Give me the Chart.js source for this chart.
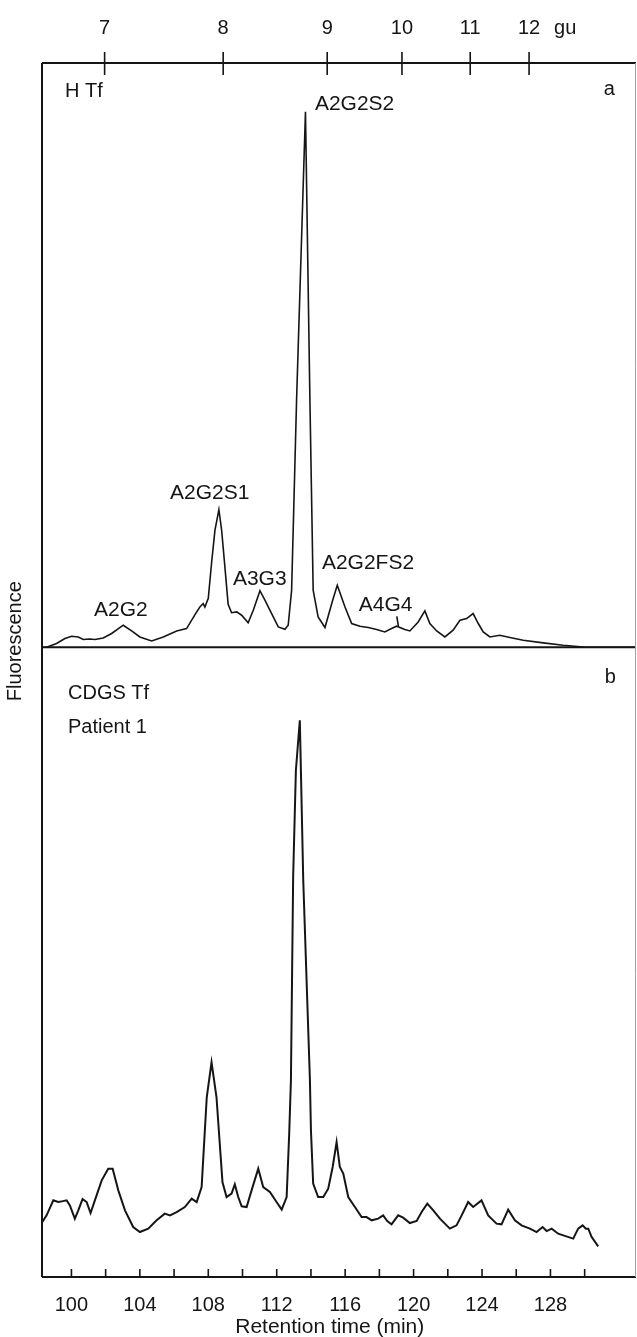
<!DOCTYPE html>
<html>
<head>
<meta charset="utf-8">
<script src="https://cdn.jsdelivr.net/npm/chart.js@4.4.1/dist/chart.umd.min.js"></script>
<style>
  html, body { margin: 0; padding: 0; background: #fff; }
</style>
</head>
<body>
<canvas id="chromChart" width="637" height="1337"></canvas>
<script>
// Panel a: normal human transferrin (H Tf), retention time (min) vs fluorescence
var timeA = [98.39, 98.55, 99.13, 99.62, 100.01, 100.40, 100.69, 101.08, 101.37, 101.86,
  102.35, 103.03, 103.52, 104.00, 104.69, 105.37, 106.15, 106.73, 107.32, 107.51,
  107.70, 107.80, 108.00, 108.19, 108.39, 108.62, 108.78, 108.97, 109.16, 109.36,
  109.66, 109.95, 110.33, 110.63, 111.02, 111.31, 111.60, 112.09, 112.48, 112.67,
  112.87, 113.16, 113.68, 113.94, 114.13, 114.42, 114.82, 115.30, 115.54, 115.99,
  116.38, 116.86, 117.35, 117.84, 118.32, 118.71, 119.01, 119.49, 119.78, 120.27,
  120.66, 120.95, 121.35, 121.83, 122.31, 122.71, 123.10, 123.48, 123.78, 124.07,
  124.46, 125.04, 125.63, 126.41, 127.58, 128.74, 129.91, 130.89, 132.99];
var fluorA = [0, 0, 0.63, 1.49, 1.88, 1.76, 1.32, 1.42, 1.32, 1.59,
  2.35, 3.77, 2.79, 1.76, 1.08, 1.76, 2.79, 3.20, 6.04, 6.90,
  7.48, 6.90, 8.39, 14.38, 20.03, 23.54, 20.03, 13.75, 7.36, 5.91,
  6.04, 5.48, 4.20, 6.34, 9.67, 8.05, 6.34, 3.48, 3.08, 3.77,
  9.76, 42.29, 91.66, 42.29, 9.76, 5.19, 3.37, 8.34, 10.62, 6.90,
  4.06, 3.60, 3.37, 3.03, 2.62, 3.20, 3.60, 3.03, 2.79, 4.33,
  6.22, 4.06, 2.79, 1.76, 2.91, 4.62, 4.91, 5.77, 4.06, 2.62,
  1.76, 2.05, 1.66, 1.20, 0.74, 0.34, 0.05, 0, 0];

// Panel b: CDGS transferrin, patient 1
var timeB = [98.28, 98.55, 98.94, 99.23, 99.44, 99.72, 99.91, 100.20, 100.40, 100.65,
  100.89, 101.12, 101.37, 101.77, 102.15, 102.41, 102.74, 103.13, 103.61, 104.00,
  104.49, 104.98, 105.46, 105.76, 106.15, 106.63, 107.03, 107.32, 107.61, 107.91,
  108.19, 108.48, 108.83, 109.07, 109.36, 109.55, 109.75, 109.95, 110.24, 110.53,
  110.92, 111.21, 111.60, 111.99, 112.29, 112.58, 112.73, 112.83, 112.96, 113.12,
  113.35, 113.55, 113.94, 114.00, 114.13, 114.42, 114.72, 115.01, 115.27, 115.50,
  115.69, 115.89, 116.18, 116.57, 116.96, 117.25, 117.55, 117.93, 118.22, 118.46,
  118.71, 119.10, 119.39, 119.78, 120.18, 120.47, 120.80, 121.15, 121.54, 122.12,
  122.51, 122.81, 123.19, 123.48, 123.97, 124.36, 124.85, 125.14, 125.53, 125.92,
  126.31, 126.80, 127.19, 127.54, 127.78, 128.07, 128.45, 128.75, 129.33, 129.62,
  129.88, 130.07, 130.21, 130.41, 130.79];
var fluorB = [9.59, 10.69, 13.05, 12.78, 12.89, 13.05, 12.26, 10.17, 11.48, 13.25,
  12.78, 11.05, 13.05, 16.19, 18.03, 18.03, 14.62, 11.48, 8.85, 8.07,
  8.60, 9.91, 10.96, 10.69, 11.21, 12.00, 13.32, 12.78, 15.14, 29.25,
  34.75, 29.25, 15.88, 13.57, 14.10, 15.57, 13.57, 12.11, 12.00, 14.62,
  18.03, 15.14, 14.36, 12.78, 11.59, 13.57, 23.58, 31.92, 63.84, 80.66,
  88.52, 63.36, 31.92, 24.06, 15.68, 13.57, 13.57, 14.89, 18.29, 22.22,
  18.29, 17.25, 13.57, 12.00, 10.42, 10.42, 9.91, 10.17, 10.69, 9.80,
  9.28, 10.69, 10.33, 9.48, 9.80, 11.21, 12.53, 11.48, 10.17, 8.60,
  9.12, 10.69, 12.78, 12.00, 13.05, 10.69, 9.39, 9.28, 11.59, 9.91,
  9.12, 8.60, 8.07, 8.85, 8.22, 8.60, 7.81, 7.55, 7.03, 8.60,
  9.12, 8.60, 8.60, 7.28, 5.82];

// bottom axis (minutes) and top axis (glucose units)
var minuteTicks = [100, 102, 104, 106, 108, 110, 112, 114, 116, 118, 120, 122, 124, 126, 128, 130];
var guTimes = [101.94, 108.87, 114.95, 119.32, 123.31, 126.75];
var guLabels = ['7', '8', '9', '10', '11', '12'];

// glycan peak names in panel a
var peakNames = ['A2G2', 'A2G2S1', 'A3G3', 'A2G2S2', 'A2G2FS2', 'A4G4'];
var peakLabelTimes = [101.32, 105.76, 109.44, 114.23, 114.64, 116.80];
var peakLabelLevels = [6.34, 26.37, 11.73, 92.98, 14.38, 7.19];

var FONT = '"Liberation Sans", Arial, sans-serif';
var INK = '#151515';

function toPoints(xs, ys) {
  return xs.map(function (t, i) { return { x: t, y: ys[i] }; });
}

var framePlugin = {
  id: 'frame',
  afterDraw: function (chart) {
    var c = chart.ctx;
    var area = chart.chartArea;
    var x = chart.scales.x, gu = chart.scales.gu, yA = chart.scales.yA, yB = chart.scales.yB;
    c.save();
    c.strokeStyle = INK;
    c.lineWidth = 2;
    c.beginPath();
    c.moveTo(area.left, area.top); c.lineTo(area.left, area.bottom);
    c.moveTo(area.left, area.top); c.lineTo(area.right, area.top);
    c.moveTo(area.left, yA.bottom); c.lineTo(area.right, yA.bottom);
    c.moveTo(area.left, area.bottom); c.lineTo(area.right, area.bottom);
    c.stroke();

    // faint right edge
    c.strokeStyle = '#a0a0a0';
    c.lineWidth = 1;
    c.beginPath();
    c.moveTo(area.right - 0.5, area.top); c.lineTo(area.right - 0.5, area.bottom);
    c.stroke();

    // tick marks
    c.strokeStyle = INK;
    c.lineWidth = 1.6;
    c.beginPath();
    x.ticks.forEach(function (t) {
      var px = x.getPixelForValue(t.value);
      c.moveTo(px, area.bottom); c.lineTo(px, area.bottom - 8);
    });
    gu.ticks.forEach(function (t) {
      var px = gu.getPixelForValue(t.value);
      c.moveTo(px, area.top - 11); c.lineTo(px, area.top + 12);
    });
    // leader from A4G4 label to its peak
    c.moveTo(x.getPixelForValue(119.02), yA.getPixelForValue(5.3));
    c.lineTo(x.getPixelForValue(119.11), yA.getPixelForValue(3.6));
    c.stroke();

    c.fillStyle = INK;
    c.font = '20px ' + FONT;
    c.textBaseline = 'middle';
    c.textAlign = 'left';
    c.fillText('gu', gu.getPixelForValue(guTimes[guTimes.length - 1]) + 25, 28);

    c.font = '21px ' + FONT;
    peakNames.forEach(function (name, i) {
      c.fillText(name, x.getPixelForValue(peakLabelTimes[i]), yA.getPixelForValue(peakLabelLevels[i]));
    });
    c.font = '20px ' + FONT;
    c.fillText('H Tf', x.getPixelForValue(99.62), yA.getPixelForValue(95.2));
    c.fillText('a', x.getPixelForValue(131.12), yA.getPixelForValue(95.4));
    c.fillText('CDGS Tf', x.getPixelForValue(99.8), yB.getPixelForValue(92.8));
    c.fillText('Patient 1', x.getPixelForValue(99.8), yB.getPixelForValue(87.4));
    c.fillText('b', x.getPixelForValue(131.18), yB.getPixelForValue(95.3));

    // x-axis title, centred under the trace rather than the frame
    c.textAlign = 'center';
    c.font = '21px ' + FONT;
    c.fillText('Retention time (min)', x.getPixelForValue(115.1), 1327);

    // shared y-axis title
    c.font = '20px ' + FONT;
    c.translate(15, yA.bottom - 6);
    c.rotate(-Math.PI / 2);
    c.fillText('Fluorescence', 0, 0);
    c.restore();
  }
};

Chart.defaults.font.family = FONT;
Chart.defaults.color = INK;

var ctx = document.getElementById('chromChart').getContext('2d');
var chart = new Chart(ctx, {
  type: 'line',
  data: {
    datasets: [
      {
        label: 'H Tf',
        data: toPoints(timeA, fluorA),
        yAxisID: 'yA',
        borderColor: INK,
        borderWidth: 1.6,
        pointRadius: 0,
        tension: 0,
        fill: false
      },
      {
        label: 'CDGS Tf',
        data: toPoints(timeB, fluorB),
        yAxisID: 'yB',
        borderColor: INK,
        borderWidth: 2,
        pointRadius: 0,
        tension: 0,
        fill: false
      }
    ]
  },
  options: {
    responsive: false,
    animation: false,
    layout: { padding: { left: 0, right: 1, top: 0, bottom: 0 } },
    plugins: { legend: { display: false }, tooltip: { enabled: false } },
    scales: {
      x: {
        type: 'linear',
        position: 'bottom',
        min: 98.28,
        max: 133,
        grid: { display: false, drawTicks: false },
        border: { display: false },
        afterBuildTicks: function (scale) {
          scale.ticks = minuteTicks.map(function (v) { return { value: v }; });
        },
        ticks: {
          autoSkip: false,
          maxRotation: 0,
          padding: 16,
          font: { size: 20 },
          callback: function (v) { return (v % 4 === 0 && v <= 128) ? String(v) : ''; }
        },
        afterFit: function (scale) { scale.height = 60; }
      },
      gu: {
        type: 'linear',
        position: 'top',
        min: 98.28,
        max: 133,
        grid: { display: false, drawTicks: false },
        border: { display: false },
        afterBuildTicks: function (scale) {
          scale.ticks = guTimes.map(function (v) { return { value: v }; });
        },
        ticks: {
          autoSkip: false,
          maxRotation: 0,
          padding: 23,
          font: { size: 20 },
          callback: function (v, i) { return guLabels[i]; }
        },
        afterFit: function (scale) { scale.height = 63; }
      },
      // stacked left axes are laid out bottom-up, so the lower panel comes first
      yB: {
        type: 'linear',
        position: 'left',
        stack: 'panels',
        stackWeight: 629.5,
        min: 1,
        max: 100,
        grid: { display: false, drawTicks: false },
        border: { display: false },
        ticks: { display: false },
        afterFit: function (scale) { scale.width = 42; }
      },
      yA: {
        type: 'linear',
        position: 'left',
        stack: 'panels',
        stackWeight: 584,
        min: 0,
        max: 100,
        grid: { display: false, drawTicks: false },
        border: { display: false },
        ticks: { display: false },
        afterFit: function (scale) { scale.width = 42; }
      }
    }
  },
  plugins: [framePlugin]
});
</script>
</body>
</html>
